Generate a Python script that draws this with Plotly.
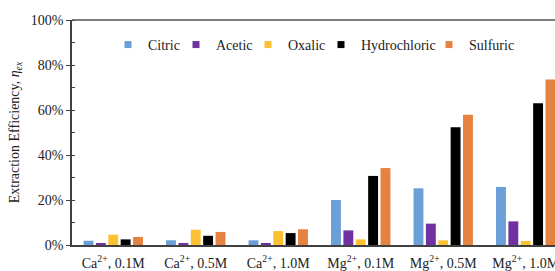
import plotly.graph_objects as go

categories = ["Ca<sup>2+</sup>, 0.1M", "Ca<sup>2+</sup>, 0.5M", "Ca<sup>2+</sup>, 1.0M",
              "Mg<sup>2+</sup>, 0.1M", "Mg<sup>2+</sup>, 0.5M", "Mg<sup>2+</sup>, 1.0M"]
citric = [0.019, 0.021, 0.021, 0.200, 0.252, 0.258]
acetic = [0.006, 0.009, 0.009, 0.065, 0.095, 0.105]
oxalic = [0.046, 0.068, 0.062, 0.025, 0.021, 0.018]
hydrochloric = [0.025, 0.041, 0.053, 0.307, 0.523, 0.630]
sulfuric = [0.036, 0.058, 0.070, 0.342, 0.579, 0.736]

series = [
    ("Citric", citric, "#6B9FD8", 23),
    ("Acetic", acetic, "#7032A0", 27),
    ("Oxalic", oxalic, "#FBC133", 28),
    ("Hydrochloric", hydrochloric, "#000000", 63),
    ("Sulfuric", sulfuric, "#E6823F", 50),
]

FONT = "Liberation Serif, Times New Roman, serif"
TXT = dict(family=FONT, size=14, color="#222222")

fig = go.Figure()
for name, vals, col, lw in series:
    fig.add_trace(go.Bar(x=categories, y=vals, name=name, marker=dict(color=col, line=dict(width=0)),
                         showlegend=False))
for name, vals, col, lw in series:
    fig.add_trace(go.Scatter(x=[None], y=[None], mode="markers", name=name, legendwidth=lw,
                             marker=dict(symbol="square", size=7, color=col), showlegend=True))

fig.update_layout(
    width=555, height=271,
    margin=dict(l=72, r=0, t=20, b=26),
    plot_bgcolor="white", paper_bgcolor="white",
    font=TXT,
    barmode="group", bargap=0.25, bargroupgap=0.2,
    legend=dict(orientation="h", x=(108 - 72) / 483, xanchor="left", y=0.889, yanchor="middle",
                font=TXT, bgcolor="rgba(0,0,0,0)", itemwidth=30),
    xaxis=dict(range=[-0.5, 5.355], showline=True, linecolor="#404040", linewidth=1.5,
               ticks="", showgrid=False, ticklabelstandoff=4, automargin=False, tickfont=TXT),
    yaxis=dict(range=[0, 1.0], tickformat=".0%", dtick=0.2, showline=True, linecolor="#404040",
               linewidth=1.5, ticks="outside", ticklen=4, tickcolor="#404040", showgrid=False,
               zeroline=False, automargin=False, tickfont=TXT,
               minor=dict(ticks="inside", dtick=0.1, ticklen=3, tickcolor="#404040"),
               title=dict(text="Extraction Efficiency, <i>η</i><sub><i>ex</i></sub>",
                          font=TXT, standoff=8)),
)
fig.add_shape(type="line", xref="paper", yref="paper", x0=0, x1=1, y0=1, y1=1,
              line=dict(color="#555555", width=1.5))

fig.write_html("out.html", config={"displayModeBar": False},
               post_script="document.body.style.margin='0';")
